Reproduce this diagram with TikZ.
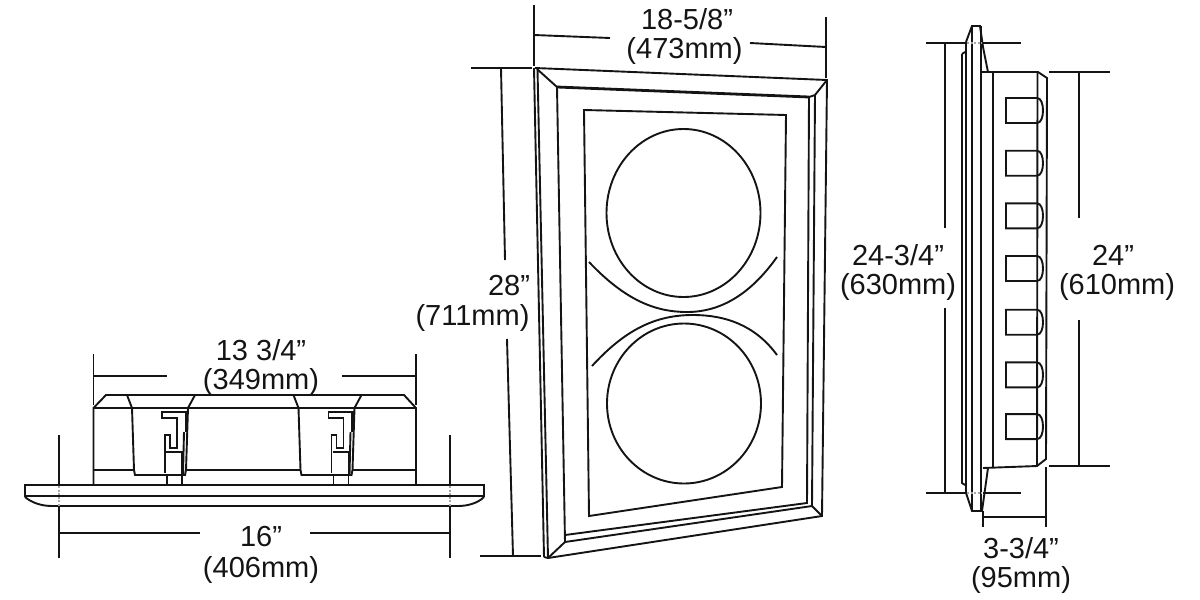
\documentclass[tikz,border=0pt]{standalone}
\usepackage{fontspec}
\setmainfont{Liberation Sans}
\tikzset{
  ln/.style={line width=1.9pt,draw=black!92,line join=miter},
  thk/.style={line width=2.8pt,draw=black!92},
  dim/.style={line width=1.9pt,draw=black!92},
  gr/.style={line width=1.4pt,draw=black!35,dash pattern=on 2pt off 1.5pt},
  lab/.style={font=\fontsize{29}{29}\selectfont,inner sep=0pt,text=black!92,anchor=center},
}
\begin{document}
\begin{tikzpicture}[x=1pt,y=-1pt]
\useasboundingbox (0,0) rectangle (1200,600);
% ---------- left view
\draw[ln] (93.5,485) -- (93.5,408) -- (106,395) -- (404,395) -- (416,408) -- (416,485);
\draw[ln] (93.5,408) -- (416,408);
\draw[ln] (93.5,470) -- (134,470);
\draw[ln] (186,470) -- (300,470);
\draw[ln] (353,470) -- (416,470);
\foreach \d in {0,166.5}{
\begin{scope}[xshift=\d pt]
\draw[ln] (127,395) -- (132,408) -- (134,470) -- (135,475) -- (185,475) -- (186,470) -- (188,408) -- (195,395);
\draw[ln] (187,412) -- (162,412) -- (162,418) -- (177,418) -- (177,448) -- (170,448) -- (170,435) -- (165,435) -- (165,473);
\draw[ln] (166,452) -- (182,452) -- (182,475);
\draw[thk] (186,411) -- (186,432);
\draw[ln] (184,432) -- (183,475);
\draw[ln] (167,475) -- (167,485);
\draw[ln] (182,475) -- (182,485);
\end{scope}}
\draw[ln] (25,497) -- (25,485) -- (484,485) -- (484,497);
\draw[thk] (25,496) -- (484,496);
\draw[ln] (25,497) .. controls (32,503) and (42,506) .. (52,506) -- (458,506) .. controls (468,506) and (478,503) .. (484,497);
\draw[dim] (59,435) -- (59,485);
\draw[gr] (59,486) -- (59,506);
\draw[dim] (59,507) -- (59,558);
\draw[dim] (450,435) -- (450,485);
\draw[gr] (450,486) -- (450,506);
\draw[dim] (450,507) -- (450,558);
\draw[dim] (59,533) -- (200,533);
\draw[dim] (310,533) -- (450,533);
\draw[dim] (93.5,354) -- (93.5,405);
\draw[dim] (416,354) -- (416,405);
\draw[dim] (93.5,376) -- (167,376);
\draw[dim] (342,376) -- (416,376);
\node[lab] (w1) at (261,350) {13 3/4”};
\node[lab] (w2) at (261,381.5) {(349mm)};
\node[lab] (w3) at (261,537) {16”};
\node[lab] (w4) at (261,569.5) {(406mm)};
% ---------- centre view
\draw[ln] (534,68) -- (544,557);
\draw[ln] (537.5,69) -- (548,558);
\draw[ln] (535,68) -- (827,80) -- (822,516) -- (548,558) -- (544,557);
\draw[ln] (537,69) -- (557,87);
\draw[ln] (827,80) -- (815,95);
\draw[ln] (822,516) -- (812,506);
\draw[ln] (548,558) -- (565,542);
\draw[thk] (557,87) -- (809,97);
\draw[ln] (557,87) -- (565,542) -- (812,506) -- (815,95) -- (809,97) -- (807,503) -- (565,535);
\draw[ln] (584,110) -- (786,115) -- (782,487) -- (589,516) -- cycle;
\draw[ln] (683.5,213) ellipse [x radius=77,y radius=84];
\draw[ln] (684,403.5) ellipse [x radius=77,y radius=80];
\draw[ln] (589,262) .. controls (625,300) and (655,312) .. (687,312) .. controls (720,312) and (750,295) .. (777,257);
\draw[ln] (592,366) .. controls (625,330) and (655,315) .. (693,315) .. controls (725,315) and (755,325) .. (777,355);
\draw[dim] (534,5) -- (534,66);
\draw[dim] (826,17) -- (826,78);
\draw[dim] (534,35) -- (610,38);
\draw[dim] (750,43) -- (826,47);
\draw[dim] (471,68) -- (532,68);
\draw[dim] (480,556) -- (541,556);
\draw[dim] (501,68) -- (505,260);
\draw[dim] (507,339) -- (513,556);
\node[lab] (h1) at (687,19.5) {18-5/8”};
\node[lab] (h2) at (684.5,50.5) {(473mm)};
\node[lab] (h3) at (509,286) {28”};
\node[lab] (h4) at (472.5,317.5) {(711mm)};
% ---------- right view
\draw[ln] (962,54) -- (962,483) -- (965,485);
\draw[ln] (965,52) -- (962,54);
\draw[ln] (965.5,52) -- (965.5,485);
\draw[ln] (966,42) -- (972,26) -- (980,26) -- (983,47) -- (988,72);
\draw[ln] (966,42) -- (966,493) -- (972,511) -- (982,511) -- (988,468);
\draw[ln] (972,26) -- (972,511);
\draw[thk] (981,26) -- (981,511);
\draw[ln] (993,72) -- (993,468);
\draw[ln] (981,72) -- (1038,72) -- (1047,78) -- (1046,459) -- (1037,466) -- (983,468);
\draw[ln] (1037.5,72) -- (1037,466);
\foreach \y in {98,150.7,203.3,256,309.7,362.4,414.1}{
  \draw[ln] (1037,\y) -- (1006,\y) -- ++(0,25) -- ++(31,0) .. controls (1041,\y+25) and (1043,\y+19) .. (1043,\y+12.5) .. controls (1043,\y+6) and (1041,\y) .. (1037,\y);
}
\draw[dim] (926,43) -- (966,43);
\draw[gr] (967,43) -- (982,43);
\draw[dim] (983,43) -- (1021,43);
\draw[dim] (926,493) -- (966,493);
\draw[gr] (967,493) -- (982,493);
\draw[dim] (983,493) -- (1021,493);
\draw[dim] (945,43) -- (945,228);
\draw[dim] (945,308) -- (945,493);
\draw[dim] (1049,72) -- (1110,72);
\draw[dim] (1049,466) -- (1110,466);
\draw[dim] (1079,72) -- (1079,218);
\draw[dim] (1079,320) -- (1079,466);
\draw[dim] (983,511) -- (983,527);
\draw[dim] (1046,467) -- (1046,527);
\draw[dim] (983,517) -- (1046,517);
\node[lab] (r1) at (898,255) {24-3/4”};
\node[lab] (r2) at (898,287) {(630mm)};
\node[lab] (r3) at (1113,255) {24”};
\node[lab] (r4) at (1117,287) {(610mm)};
\node[lab] (r5) at (1021,548) {3-3/4”};
\node[lab] (r6) at (1021,580) {(95mm)};
\end{tikzpicture}
\end{document}
